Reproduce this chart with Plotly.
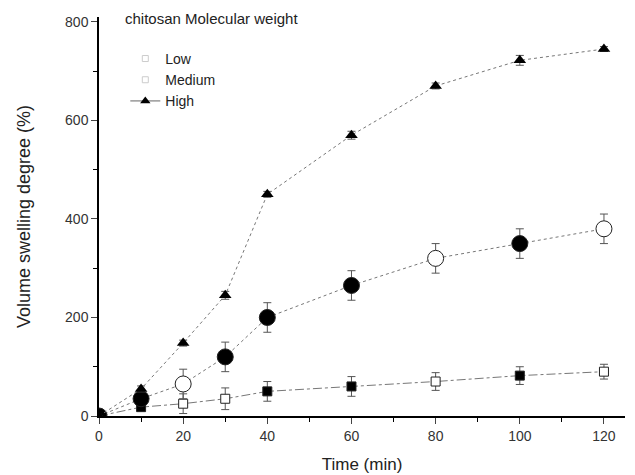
import plotly.graph_objects as go

time_min = [0, 10, 20, 30, 40, 60, 80, 100, 120]
low = [0, 18, 25, 35, 50, 60, 70, 82, 90]
low_err = [0, 8, 20, 22, 20, 20, 18, 18, 15]
medium = [0, 35, 65, 120, 200, 265, 320, 350, 380]
medium_err = [0, 10, 30, 30, 30, 30, 30, 30, 30]
high = [0, 55, 148, 245, 450, 570, 670, 722, 745]
high_err = [0, 6, 6, 8, 6, 8, 6, 10, 5]

x_ticks = [0, 20, 40, 60, 80, 100, 120]
y_ticks = [0, 200, 400, 600, 800]
legend_title = "chitosan Molecular weight"

# marker fill style: open markers at 20 and 80 min for low/medium
fill_low = ["black", "black", "white", "white", "black", "black", "white", "black", "white"]
fill_med = ["black", "black", "white", "black", "black", "black", "white", "black", "white"]

fig = go.Figure()

err_style = dict(type="data", color="#555", thickness=1, width=4)

fig.add_trace(go.Scatter(
    x=time_min, y=low, mode="lines+markers", showlegend=False,
    line=dict(color="#777", width=1, dash="dashdot"),
    marker=dict(symbol="square", size=9, color=fill_low, line=dict(color="#222", width=1)),
    error_y=dict(array=low_err, **err_style)))
fig.add_trace(go.Scatter(
    x=time_min, y=medium, mode="lines+markers", showlegend=False,
    line=dict(color="#777", width=1, dash="dot"),
    marker=dict(symbol="circle", size=16, color=fill_med, line=dict(color="#222", width=1)),
    error_y=dict(array=medium_err, **err_style)))
fig.add_trace(go.Scatter(
    x=time_min, y=high, mode="lines+markers", showlegend=False,
    line=dict(color="#777", width=1, dash="dot"),
    marker=dict(symbol="triangle-up", size=11, color="black"),
    error_y=dict(array=high_err, **err_style)))

# legend entries
fig.add_trace(go.Scatter(x=[None], y=[None], mode="markers", name="Low",
                         marker=dict(symbol="square-open", size=6, color="#ccc", line=dict(width=1))))
fig.add_trace(go.Scatter(x=[None], y=[None], mode="markers", name="Medium",
                         marker=dict(symbol="square-open", size=6, color="#ccc", line=dict(width=1))))
fig.add_trace(go.Scatter(x=[None], y=[None], mode="lines+markers", name="High",
                         line=dict(color="#666", width=1),
                         marker=dict(symbol="triangle-up", size=9, color="black")))

fig.add_annotation(text=legend_title, xref="paper", yref="paper", x=0.046, y=0.995,
                   xanchor="left", yanchor="middle", showarrow=False,
                   font=dict(size=15, color="#222"))

axis_font = dict(family="Liberation Sans, Arial, sans-serif", size=14, color="#333")
fig.update_layout(
    width=627, height=467,
    margin=dict(l=91, r=10, t=9, b=59),
    paper_bgcolor="white", plot_bgcolor="white",
    font=dict(family="Liberation Sans, Arial, sans-serif", color="#222"),
    legend=dict(x=0.05, y=0.935, xanchor="left", yanchor="top",
                bgcolor="rgba(0,0,0,0)", font=dict(size=14),
                itemwidth=30, tracegroupgap=0),
    xaxis=dict(range=[0, 125], tickvals=x_ticks, ticks="outside", ticklen=6,
               showline=True, linecolor="black", linewidth=1.5, showgrid=False,
               zeroline=False, tickfont=axis_font, automargin=False,
               minor=dict(ticks="outside", dtick=10, ticklen=4, tickcolor="black"),
               title=dict(text="Time (min)", font=dict(size=17), standoff=16)),
    yaxis=dict(range=[0, 810], tickvals=y_ticks, ticks="outside", ticklen=6,
               showline=True, linecolor="black", linewidth=1.5, showgrid=False,
               zeroline=False, tickfont=axis_font, automargin=False,
               minor=dict(ticks="outside", dtick=100, ticklen=4, tickcolor="black"),
               title=dict(text="Volume swelling degree (%)", font=dict(size=18), standoff=30)),
)

fig.write_html("out.html")
